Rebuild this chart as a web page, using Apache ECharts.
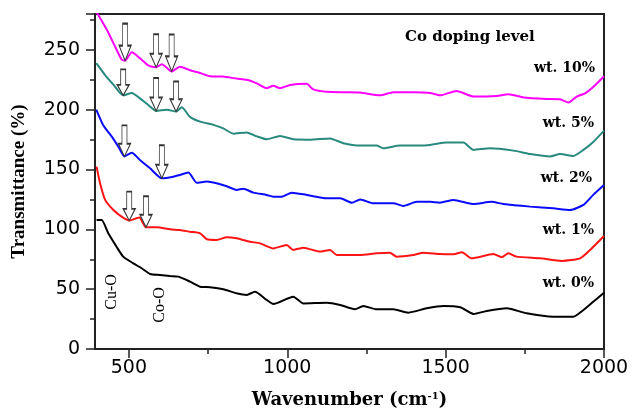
<!DOCTYPE html>
<html>
<head>
<meta charset="utf-8">
<script src="https://cdn.jsdelivr.net/npm/echarts@6/dist/echarts.min.js"></script>
<style>
  html, body { margin: 0; padding: 0; background: #fff; }
  #container { width: 633px; height: 416px; }
</style>
</head>
<body>
<div id="container"></div>
<script>
var dom = document.getElementById("container");
var myChart = echarts.init(dom);

// 刻度
var xMajorTicks = [500, 1000, 1500, 2000];
var xMinorTicks = [750, 1250, 1750];

// 各掺杂量的透过率曲线 [波数, 透过率]
var wt10 = [[397,282],[430,267],[456,253],[477,242],[488,241],[509,248],[535,243],[561,237],[586,235.5],[604,238],[635,232],[661,236],[693,233],[725,230.7],[756,228],[797,227.7],[840,226],[872,225],[904,222],[935,218],[956,220],[977,218],[1009,220.7],[1061,221.6],[1082,217],[1125,215],[1188,214.6],[1230,214.3],[1293,212],[1335,214.6],[1398,214.6],[1451,214],[1482,212],[1535,215.7],[1588,211],[1661,211.5],[1698,213],[1746,210.3],[1819,209],[1861,208.7],[1888,206],[1914,211],[1940,213.7],[1966,219],[2000,228]];
var wt5 = [[397,239],[425,229],[451,221],[482,212],[509,214],[535,209.5],[561,204],[586,199],[619,200],[649,198.5],[667,202],[693,194],[725,190],[767,187.3],[798,184.4],[830,180],[872,181],[904,177.7],[935,175.3],[977,178],[1019,175.3],[1072,175],[1135,176],[1177,172],[1230,170],[1282,170],[1303,167.7],[1356,170],[1419,170],[1451,170.6],[1504,172.5],[1556,172.5],[1588,166.4],[1640,167.8],[1714,165.8],[1767,163],[1830,161],[1861,163],[1903,161.4],[1935,166.4],[1966,173],[2000,182.5]];
var wt2 = [[397,200],[419,187],[446,177.5],[467,169],[486,161],[509,164],[535,158],[567,151],[604,142.7],[640,144],[661,145.5],[688,147.5],[714,139],[746,140],[777,138.5],[809,136],[840,133],[861,134],[893,130.7],[935,128.8],[956,127.3],[983,127.3],[1014,130.7],[1061,128.8],[1125,126],[1167,126],[1204,122.3],[1230,125],[1272,121.8],[1335,121.8],[1367,119.6],[1409,123],[1451,123],[1482,122.3],[1525,124.6],[1588,121.2],[1645,123],[1682,121.2],[1767,119],[1840,117.6],[1893,116.2],[1935,120.4],[1966,128.8],[2000,137]];
var wt1 = [[398,152.4],[409,138.5],[425,124.6],[451,116.2],[477,110.6],[501,107.3],[533,110],[554,101.7],[588,101.7],[630,100],[661,99.5],[693,98],[725,96.7],[746,91.7],[777,91.1],[809,93.4],[840,92.5],[882,89.7],[914,88.3],[935,86],[956,84.1],[998,87],[1019,82.8],[1051,84.7],[1103,81.4],[1135,82.8],[1156,78.6],[1230,78.6],[1282,80],[1324,80.5],[1345,77.2],[1398,78.6],[1430,80.5],[1482,79.4],[1525,79.2],[1551,80.9],[1582,75.8],[1651,79.4],[1677,76.7],[1698,80],[1724,77.2],[1798,75.8],[1867,73.6],[1924,75.8],[1956,82.8],[2000,94.5]];
var wt0 = [[398,107.9],[414,107.9],[435,96.7],[461,85.5],[482,77.2],[514,71.6],[540,67.5],[567,62.7],[598,61.9],[630,61],[656,60.5],[693,56.3],[725,52.1],[756,51.6],[798,49.9],[840,46.6],[872,45.2],[898,47.9],[935,41],[956,37.6],[1019,43.7],[1051,38.1],[1125,38.7],[1167,36.8],[1214,33.2],[1240,36],[1282,33.2],[1335,33.2],[1382,30.4],[1440,34],[1493,36],[1546,34.9],[1588,29.3],[1630,31.8],[1693,34],[1756,29.8],[1840,27],[1903,27],[1935,32.6],[1966,39.5],[2000,47]];

// 箭头标记 [波数, 透过率, 箭头长度]
var arrows10 = [[488,241,37],[586,235.5,33],[635,232,37]];
var arrows5 = [[482,212,26],[586,199,33],[649,198.5,30]];
var arrows2 = [[486,161,31],[604,142.7,33]];
var arrows1 = [[501,107.3,29],[554,101.7,31]];

var arrowPath = 'path://M3.5,0 L8.5,0 L8.5,19 L12,19 L6,32 L0,19 L3.5,19 Z';

function arrowMarks(list) {
    return {
        symbol: arrowPath,
        symbolOffset: [0, '-50%'],
        itemStyle: {color: '#fff', borderColor: '#333', borderWidth: 1.2},
        label: {show: false},
        silent: true,
        data: list.map(function (a) {
            return {coord: [a[0], a[1]], symbolSize: [12, a[2]]};
        })
    };
}

function makeSeries(name, data, color, arrows) {
    var s = {
        name: name,
        type: 'line',
        data: data,
        showSymbol: false,
        symbol: 'none',
        smooth: 0.2,
        lineStyle: {color: color, width: 2},
        z: 2
    };
    if (arrows) s.markPoint = arrowMarks(arrows);
    return s;
}

var boldSerif = 'DejaVu Serif';
var timesLike = 'Liberation Serif';

option = {
    animation: false,
    backgroundColor: '#fff',
    grid: {
        left: 95, top: 14, right: 29, bottom: 67,
        show: true, borderColor: '#222', borderWidth: 2, backgroundColor: 'transparent'
    },
    xAxis: [{
        type: 'value',
        min: 393,
        max: 2000,
        name: 'Wavenumber (cm{sup|-1})',
        nameLocation: 'middle',
        nameGap: 42,
        nameTextStyle: {
            fontFamily: boldSerif, fontWeight: 'bold', fontSize: 18, color: '#000',
            rich: {
                sup: {fontFamily: boldSerif, fontWeight: 'bold', fontSize: 10, color: '#000', verticalAlign: 'top', padding: [0, 0, 9, 0]}
            }
        },
        axisLine: {show: true, lineStyle: {color: '#222', width: 2}},
        axisTick: {show: true, customValues: xMajorTicks, length: 9, lineStyle: {color: '#222', width: 1.5}},
        axisLabel: {
            customValues: xMajorTicks,
            formatter: function (v) { return String(v); },
            fontFamily: 'DejaVu Sans', fontSize: 19, color: '#000', margin: 10
        },
        splitLine: {show: false}
    }, {
        type: 'value',
        min: 393,
        max: 2000,
        position: 'bottom',
        axisLine: {show: false},
        axisTick: {show: true, customValues: xMinorTicks, length: 5, lineStyle: {color: '#222', width: 1.5}},
        axisLabel: {show: false},
        splitLine: {show: false}
    }],
    yAxis: {
        type: 'value',
        min: 0,
        max: 280,
        interval: 50,
        name: 'Transmittance (%)',
        nameLocation: 'middle',
        nameGap: 66,
        nameTextStyle: {fontFamily: timesLike, fontWeight: 'bold', fontSize: 19, color: '#000'},
        axisLine: {show: true, lineStyle: {color: '#222', width: 2}},
        axisTick: {show: true, length: 9, lineStyle: {color: '#222', width: 1.5}},
        minorTick: {show: true, splitNumber: 2, length: 5, lineStyle: {color: '#222', width: 1.5}},
        axisLabel: {
            showMaxLabel: false,
            formatter: function (v) { return v === 280 ? '' : String(v); },
            fontFamily: 'DejaVu Sans', fontSize: 19, color: '#000', margin: 15
        },
        splitLine: {show: false},
        minorSplitLine: {show: false}
    },
    graphic: [
        {type: 'text', left: 405, top: 30, style: {text: 'Co doping level', font: 'bold 15px "DejaVu Serif"', fill: '#000'}},
        {type: 'text', x: 595, y: 68, style: {text: 'wt. 10%', font: 'bold 14px "DejaVu Serif"', fill: '#000', align: 'right', verticalAlign: 'middle'}},
        {type: 'text', x: 594, y: 123, style: {text: 'wt. 5%', font: 'bold 14px "DejaVu Serif"', fill: '#000', align: 'right', verticalAlign: 'middle'}},
        {type: 'text', x: 592, y: 178, style: {text: 'wt. 2%', font: 'bold 14px "DejaVu Serif"', fill: '#000', align: 'right', verticalAlign: 'middle'}},
        {type: 'text', x: 594, y: 230, style: {text: 'wt. 1%', font: 'bold 14px "DejaVu Serif"', fill: '#000', align: 'right', verticalAlign: 'middle'}},
        {type: 'text', x: 594, y: 283, style: {text: 'wt. 0%', font: 'bold 14px "DejaVu Serif"', fill: '#000', align: 'right', verticalAlign: 'middle'}},
        {type: 'text', x: 112, y: 292, rotation: Math.PI / 2, style: {text: 'Cu-O', font: '16px "Liberation Serif"', fill: '#000', align: 'center', verticalAlign: 'middle'}},
        {type: 'text', x: 160, y: 305, rotation: Math.PI / 2, style: {text: 'Co-O', font: '16px "Liberation Serif"', fill: '#000', align: 'center', verticalAlign: 'middle'}}
    ],
    series: [
        makeSeries('wt. 0%', wt0, '#000000', null),
        makeSeries('wt. 1%', wt1, '#ff1414', arrows1),
        makeSeries('wt. 2%', wt2, '#0a0aff', arrows2),
        makeSeries('wt. 5%', wt5, '#28897e', arrows5),
        makeSeries('wt. 10%', wt10, '#ff00ff', arrows10)
    ]
};

if (option && typeof option === "object") {
    myChart.setOption(option, true);
}
</script>
</body>
</html>
